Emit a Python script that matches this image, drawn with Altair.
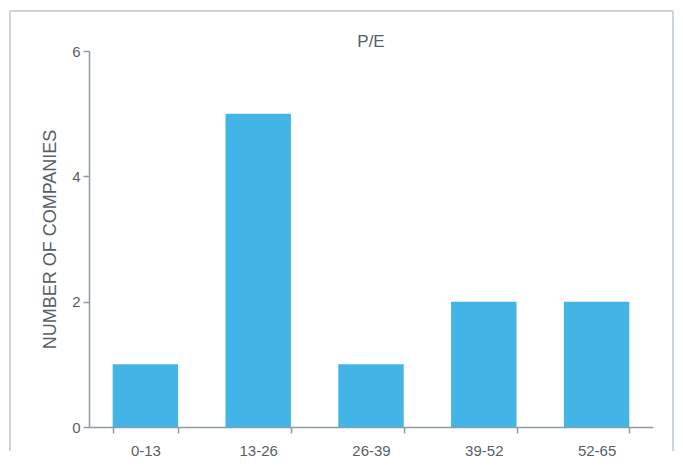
import altair as alt
import pandas as pd

categories = ["0-13", "13-26", "26-39", "39-52", "52-65"]
counts = [1, 5, 1, 2, 2]
title_text = "P/E"

df = pd.DataFrame({"range": categories, "count": counts})

AXIS = "#8d9ba5"
TEXT = "#565f66"
FRAME = "#c9d4da"
FONT = "Liberation Sans"

bars = alt.Chart(df).mark_bar(color="#42b4e6").encode(
    x=alt.X("range:N", sort=categories, title=None,
            scale=alt.Scale(paddingInner=0.42, paddingOuter=0.21),
            axis=alt.Axis(labelAngle=0, tickBand="extent", labelPadding=10,
                          tickSize=6, domainColor=AXIS, tickColor=AXIS,
                          domainWidth=1.5, tickWidth=1.5,
                          labelColor=TEXT, labelFontSize=15, labelFont=FONT)),
    y=alt.Y("count:Q", title="NUMBER OF COMPANIES",
            scale=alt.Scale(domain=[0, 6]),
            axis=alt.Axis(values=[0, 2, 4, 6], grid=False, tickSize=6, labelPadding=3,
                          domainColor=AXIS, tickColor=AXIS, domainWidth=1.5, tickWidth=1.5,
                          labelColor=TEXT, labelFontSize=15, labelFont=FONT,
                          titleColor=TEXT, titleFontSize=18, titleFontWeight="normal",
                          titleFont=FONT, titlePadding=12)),
)

title = alt.Chart(pd.DataFrame({"t": [title_text]})).mark_text(
    fontSize=17, font=FONT, color=TEXT, align="center", baseline="alphabetic"
).encode(text="t:N", x=alt.value(282), y=alt.value(-4))

frame_left = alt.Chart(df).mark_rule(color=FRAME, strokeWidth=1).encode(
    x=alt.value(-79), y=alt.value(-40), y2=alt.value(400))
frame_top = alt.Chart(df).mark_rule(color=FRAME, strokeWidth=1).encode(
    x=alt.value(-79), x2=alt.value(584), y=alt.value(-40))
frame_right = alt.Chart(df).mark_rule(color=FRAME, strokeWidth=1).encode(
    x=alt.value(584), y=alt.value(-40), y2=alt.value(400))

chart = alt.layer(bars, title, frame_left, frame_top, frame_right).properties(
    width=564, height=376,
    padding={"left": 1, "top": 2, "right": 0, "bottom": 0},
).configure_view(stroke=None)

chart.save("out.html", embed_options={"renderer": "svg", "actions": False})
